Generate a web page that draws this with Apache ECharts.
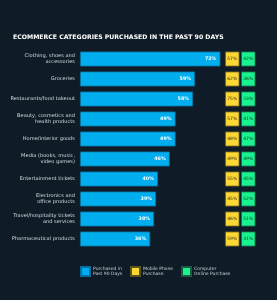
<!DOCTYPE html>
<html>
<head>
<meta charset="utf-8">
<script src="https://cdn.jsdelivr.net/npm/echarts@6/dist/echarts.min.js"></script>
<style>
  html, body { margin: 0; padding: 0; background: #0f1c27; }
  #chart { width: 277px; height: 300px; }
</style>
</head>
<body>
<div id="chart"></div>
<script>
// categories, top to bottom
var categories = [
  "Clothing, shoes and\naccessories",
  "Groceries",
  "Restaurants/food takeout",
  "Beauty, cosmetics and\nhealth products",
  "Home/interior goods",
  "Media (books, music,\nvideo games)",
  "Entertainment tickets",
  "Electronics and\noffice products",
  "Travel/hospitality tickets\nand services",
  "Pharmaceutical products"
];
var purchased = [72, 59, 58, 49, 49, 46, 40, 39, 38, 36];
var mobile = [57, 62, 75, 57, 48, 49, 55, 45, 46, 59];
var computer = [42, 36, 23, 41, 47, 49, 45, 52, 51, 31];
var seriesNames = ["Purchased in\nPast 90 Days", "Mobile Phone\nPurchase", "Computer\nOnline Purchase"];

var font = "DejaVu Sans";
var chart = echarts.init(document.getElementById("chart"));

function boxData(values) {
  // each cell fills its column; the label shows the value
  return values.map(function (v) { return { value: 1, pct: v }; });
}

var gridTop = 49, gridH = 200;
var yCommon = {
  type: "category",
  inverse: true,
  data: categories,
  axisLine: { show: false },
  axisTick: { show: false }
};

chart.setOption({
  backgroundColor: "#0f1c27",
  title: {
    text: "ECOMMERCE CATEGORIES PURCHASED IN THE PAST 90 DAYS",
    left: 8,
    top: 29,
    textStyle: { color: "#ffffff", fontSize: 6.2, fontWeight: "bold", fontFamily: font }
  },
  legend: [0, 1, 2].map(function (i) {
    return {
      data: [seriesNames[i]],
      left: [80, 130, 181][i],
      top: 266,
      icon: "rect",
      itemWidth: 9,
      itemHeight: 9,
      padding: 0,
      textStyle: { color: "#c9ced4", fontSize: 4.5, lineHeight: 5.5, fontFamily: font, padding: [0, 0, 0, -2] }
    };
  }),
  grid: [
    { left: 80, top: gridTop, width: 195, height: gridH },
    { left: 225, top: gridTop, width: 14.5, height: gridH },
    { left: 241, top: gridTop, width: 14.5, height: gridH }
  ],
  xAxis: [
    { gridIndex: 0, type: "value", min: 0, max: 100, show: false },
    { gridIndex: 1, type: "value", min: 0, max: 1, show: false },
    { gridIndex: 2, type: "value", min: 0, max: 1, show: false }
  ],
  yAxis: [
    Object.assign({ gridIndex: 0, axisLabel: {
      color: "#d3d7dc", fontSize: 5.1, lineHeight: 6, margin: 5, fontFamily: font
    } }, yCommon),
    Object.assign({ gridIndex: 1, axisLabel: { show: false } }, yCommon),
    Object.assign({ gridIndex: 2, axisLabel: { show: false } }, yCommon)
  ],
  series: [
    {
      name: seriesNames[0],
      type: "bar",
      xAxisIndex: 0,
      yAxisIndex: 0,
      barWidth: 15,
      data: purchased,
      itemStyle: { color: "#00aeef", borderColor: "#0a6e9c", borderWidth: 0.8 },
      label: {
        show: true,
        position: "insideRight",
        distance: 4,
        formatter: "{c}%",
        color: "#ffffff",
        fontSize: 4.8,
        fontWeight: "bold",
        fontFamily: font
      },
      silent: true
    },
    {
      name: seriesNames[1],
      type: "bar",
      xAxisIndex: 1,
      yAxisIndex: 1,
      barWidth: 15,
      data: boxData(mobile),
      itemStyle: { color: "#fdd835", borderColor: "#5c5420", borderWidth: 0.8 },
      label: {
        show: true,
        position: "inside",
        formatter: function (p) { return p.data.pct + "%"; },
        color: "#2e2a18",
        fontSize: 4.5,
        fontFamily: font
      },
      silent: true
    },
    {
      name: seriesNames[2],
      type: "bar",
      xAxisIndex: 2,
      yAxisIndex: 2,
      barWidth: 15,
      data: boxData(computer),
      itemStyle: { color: "#19f38f", borderColor: "#1a5a40", borderWidth: 0.8 },
      label: {
        show: true,
        position: "inside",
        formatter: function (p) { return p.data.pct + "%"; },
        color: "#173226",
        fontSize: 4.5,
        fontFamily: font
      },
      silent: true
    }
  ]
});
</script>
</body>
</html>
